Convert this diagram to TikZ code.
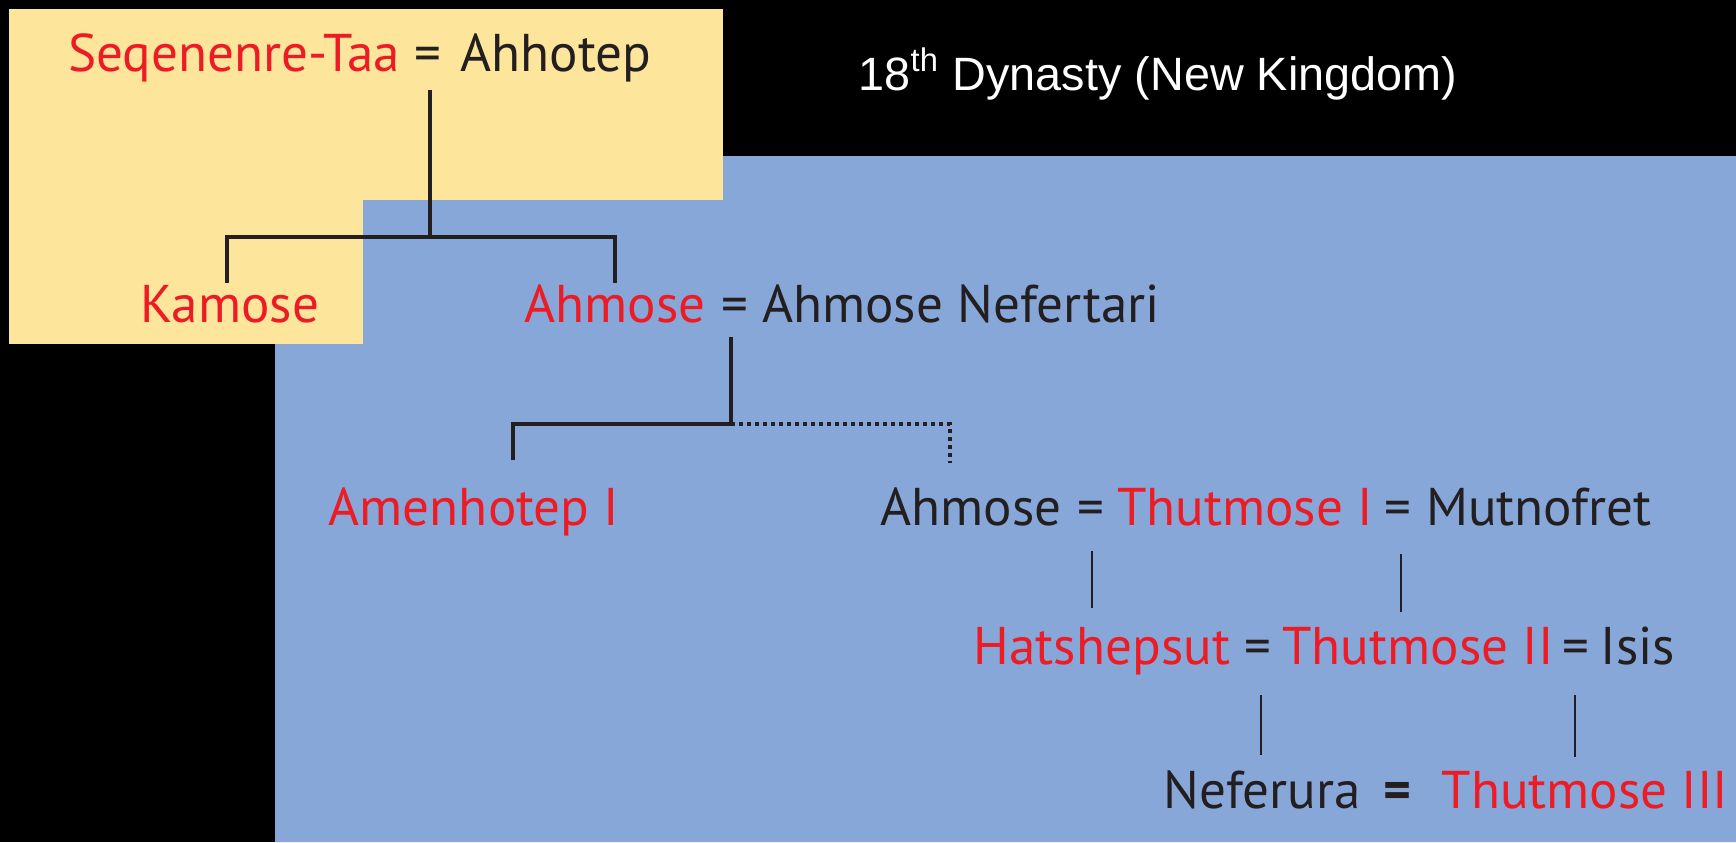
\documentclass[tikz,border=0pt]{standalone}
\usepackage{fontspec}
\setmainfont{PT Sans}
\newfontfamily\titlefont{Liberation Sans}
\usetikzlibrary{calc}
\definecolor{ylw}{RGB}{253,229,155}
\definecolor{blu}{RGB}{135,167,216}
\definecolor{nred}{RGB}{237,28,36}
\definecolor{nblk}{RGB}{35,31,32}
\tikzset{
  nm/.style={inner sep=0pt, anchor=base, font=\fontsize{15.1pt}{18pt}\selectfont},
  rd/.style={nm, text=nred},
  bk/.style={nm, text=nblk},
  kinthick/.style={draw=nblk, line width=0.04cm},
  kinthin/.style={draw=nblk, line width=0.028cm},
  kindot/.style={draw=nblk, line width=0.04cm, dash pattern=on 0.04cm off 0.04cm},
}
\begin{document}
\begin{tikzpicture}[x=0.01cm, y=-0.01cm]
  % background
  \fill[black] (0,0) rectangle (1736,842);
  \useasboundingbox (0,0) rectangle (1736,842);
  \fill[ylw] (9,9) rectangle (723,344);
  \fill[blu] (723,156) -- (1736,156) -- (1736,842) -- (275,842) -- (275,344)
     -- (363,344) -- (363,200) -- (723,200) -- cycle;

  % title
  \node[inner sep=0pt, anchor=base west, text=white,
        font=\titlefont\fontsize{13.3pt}{16pt}\selectfont] (title) at (858,90)
        {18\textsuperscript{th} Dynasty (New Kingdom)};

  % row 1
  \node[rd] (seq) at (234,71) {Seqenenre-Taa};
  \node[bk] (eq1) at (428,71) {=};
  \node[bk] (ahhotep) at (556,71) {Ahhotep};

  % row 2
  \node[rd] (kamose) at (230,322) {Kamose};
  \node[rd] (ahmose) at (615,322) {Ahmose};
  \node[bk] (eq2) at (735,322) {=};
  \node[bk] (nefertari) at (961,322) {Ahmose Nefertari};

  % row 3
  \node[rd] (amen) at (474,525) {Amenhotep I};
  \node[bk] (ahmoseb) at (971,525) {Ahmose};
  \node[bk] (eq3) at (1091,525) {=};
  \node[rd] (thuti) at (1245,525) {Thutmose I};
  \node[bk] (eq4) at (1398,525) {=};
  \node[bk] (mutnofret) at (1539,525) {Mutnofret};

  % row 4
  \node[rd] (hats) at (1102,664) {Hatshepsut};
  \node[bk] (eq5) at (1258,664) {=};
  \node[rd] (thutii) at (1418,664) {Thutmose II};
  \node[bk] (eq6) at (1576,664) {=};
  \node[bk] (isis) at (1638,664) {Isis};

  % row 5
  \node[bk] (neferura) at (1262,808) {Neferura};
  \node[bk, font=\bfseries\fontsize{15.1pt}{18pt}\selectfont] (eq7) at (1397,808) {=};
  \node[rd] (thutiii) at (1585,808) {Thutmose III};

  % connectors, top family
  \draw[kinthick] (eq1.base) ++(2,19) -- ++(0,147) coordinate (j1);
  \draw[kinthick] ($(kamose.base)+(-3,-39)$) |- (j1) -| ($(ahmose.base)+(0,-39)$);

  % Ahmose = Ahmose Nefertari children
  \draw[kinthick] (eq2.base) ++(-4,15) -- ++(0,87) coordinate (j2);
  \draw[kinthick] ($(amen.base)+(39,-65)$) |- (j2);
  \draw[kindot] (j2) -| ($(ahmoseb.base)+(-21,-62)$);

  % thin connectors
  \draw[kinthin] (eq3.base) ++(1,26) -- ++(0,57);
  \draw[kinthin] (eq4.base) ++(3,29) -- ++(0,58);
  \draw[kinthin] (eq5.base) ++(3,31) -- ++(0,60);
  \draw[kinthin] (eq6.base) ++(-1,31) -- ++(0,62);
\end{tikzpicture}
\end{document}
